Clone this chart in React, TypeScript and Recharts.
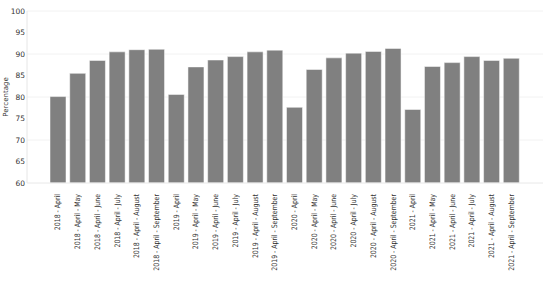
import { BarChart, Bar, XAxis, YAxis, CartesianGrid } from "recharts";

const years = ["2018", "2019", "2020", "2021"];
const periods = ["April", "April - May", "April - June", "April - July", "April - August", "April - September"];

const categories = years.flatMap((y) => periods.map((p) => `${y} - ${p}`));

const percentages = [
  80.1, 85.5, 88.5, 90.5, 91.0, 91.1,
  80.6, 87.0, 88.6, 89.4, 90.5, 90.9,
  77.6, 86.4, 89.1, 90.2, 90.6, 91.3,
  77.1, 87.1, 88.0, 89.4, 88.5, 89.0,
];

const yTicks = [60, 65, 70, 75, 80, 85, 90, 95, 100];

const data = categories.map((c, i) => ({ period: c, value: percentages[i] }));

function XTick(props: any) {
  const { x, y, payload } = props;
  return (
    <g transform={`translate(${x},${y + 3})`}>
      <text
        transform="rotate(-90) scale(0.83,1)"
        textAnchor="end"
        dy="0.35em"
        fontSize={7.5}
        fill="#333"
        fontFamily="DejaVu Sans"
      >
        {payload.value}
      </text>
    </g>
  );
}

export default function App() {
  return (
    <div style={{ position: "absolute", left: 0, top: 0, background: "#fff" }}>
      <BarChart
        width={550}
        height={283}
        data={data}
        margin={{ top: 11, right: 7, left: 0, bottom: 0 }}
        style={{ fontFamily: "DejaVu Sans" }}
      >
        <CartesianGrid vertical={false} stroke="#f2f2f2" yAxisId="left" />
        <XAxis
          dataKey="period"
          interval={0}
          height={100}
          padding={{ left: 21, right: 22 }}
          tickLine={false}
          axisLine={{ stroke: "#eeeeee" }}
          tick={<XTick />}
        />
        <YAxis
          yAxisId="left"
          domain={[60, 100]}
          ticks={yTicks}
          width={27}
          tickLine={false}
          tickSize={0}
          tickMargin={2}
          axisLine={{ stroke: "#e6e6e6" }}
          tick={{ fontSize: 7.5, fill: "#333" }}
          label={{
            value: "Percentage",
            angle: -90,
            position: "insideLeft",
            offset: 6,
            style: { fontSize: 7, fill: "#333", textAnchor: "middle" },
          }}
        />
        <YAxis
          yAxisId="right"
          orientation="right"
          domain={[60, 100]}
          width={0}
          tick={false}
          tickLine={false}
          axisLine={{ stroke: "#e6e6e6" }}
        />
        <Bar
          yAxisId="left"
          dataKey="value"
          fill="#808080"
          stroke="#ffffff"
          strokeWidth={0.5}
          barSize={16}
          isAnimationActive={false}
        />
      </BarChart>
    </div>
  );
}
